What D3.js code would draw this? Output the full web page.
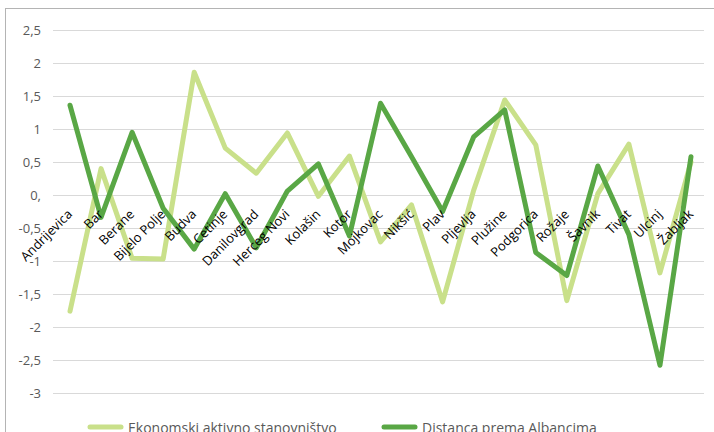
<!DOCTYPE html>
<html>
<head>
<meta charset="utf-8">
<script src="https://cdn.jsdelivr.net/npm/d3@7"></script>
<style>
  html, body { margin: 0; padding: 0; background: #fff; }
  svg { display: block; font-family: "Open Sans", "Noto Sans", sans-serif; }
</style>
</head>
<body>
<svg id="chart" width="714" height="432"></svg>
<script>
// Municipalities (x categories)
const municipalities = [
  'Andrijevica', 'Bar', 'Berane', 'Bijelo Polje', 'Budva', 'Cetinje', 'Danilovgrad',
  'Herceg Novi', 'Kolašin', 'Kotor', 'Mojkovac', 'Nikšić', 'Plav', 'Pljevlja',
  'Plužine', 'Podgorica', 'Rožaje', 'Šavnik', 'Tivat', 'Ulcinj', 'Žabljak'
];

// Series values
const ekonomskiAktivno = [
  -1.76, 0.40, -0.96, -0.97, 1.86, 0.71, 0.33,
  0.94, -0.02, 0.59, -0.71, -0.15, -1.62, 0.07,
  1.44, 0.76, -1.60, 0.02, 0.77, -1.18, 0.50
];
const distancaAlbanci = [
  1.36, -0.34, 0.95, -0.20, -0.82, 0.02, -0.80,
  0.06, 0.47, -0.62, 1.39, 0.58, -0.25, 0.88,
  1.29, -0.87, -1.22, 0.44, -0.60, -2.58, 0.58
];

const yTicks = [2.5, 2, 1.5, 1, 0.5, 0, -0.5, -1, -1.5, -2, -2.5, -3];
const yTickLabels = ['2,5', '2', '1,5', '1', '0,5', '0,', '-0,5', '-1', '-1,5', '-2', '-2,5', '-3'];

const series = [
  { name: 'Ekonomski aktivno stanovništvo', values: ekonomskiAktivno, color: '#c9e08a' },
  { name: 'Distanca prema Albancima', values: distancaAlbanci, color: '#59a745' }
];

const svg = d3.select('#chart');

// outer chart frame
svg.append('rect')
  .attr('x', 5.5).attr('y', 8.5)
  .attr('width', 740).attr('height', 460)
  .attr('fill', 'none')
  .attr('stroke', '#b4b4b4')
  .attr('stroke-width', 1);

const x = d3.scalePoint()
  .domain(municipalities)
  .range([70, 691]);

const y = d3.scaleLinear()
  .domain([-3, 2.5])
  .range([393, 30]);

// gridlines
svg.append('g')
  .selectAll('line')
  .data(yTicks)
  .join('line')
  .attr('x1', 53).attr('x2', 704)
  .attr('y1', d => Math.round(y(d)) + 0.5)
  .attr('y2', d => Math.round(y(d)) + 0.5)
  .attr('stroke', '#d9d9d9')
  .attr('stroke-width', 1);

// y axis labels
const yAxis = d3.axisLeft(y)
  .tickValues(yTicks)
  .tickSize(0)
  .tickPadding(0)
  .tickFormat((d, i) => yTickLabels[i]);

const yg = svg.append('g')
  .attr('transform', 'translate(41,0)')
  .call(yAxis);
yg.select('.domain').remove();
yg.selectAll('text')
  .attr('fill', '#595959')
  .style('font-size', '13px')
  .style('font-family', '"Open Sans", "Noto Sans", sans-serif');

// lines
const line = d3.line()
  .x((d, i) => x(municipalities[i]))
  .y(d => y(d));

svg.append('g')
  .selectAll('path')
  .data(series)
  .join('path')
  .attr('d', d => line(d.values))
  .attr('fill', 'none')
  .attr('stroke', d => d.color)
  .attr('stroke-width', 5)
  .attr('stroke-linejoin', 'round')
  .attr('stroke-linecap', 'round');

// category labels (rotated, near the zero line)
svg.append('g')
  .selectAll('text')
  .data(municipalities)
  .join('text')
  .attr('transform', d => `translate(${x(d) + 3},${y(0) + 20}) rotate(-45)`)
  .attr('text-anchor', 'end')
  .attr('fill', '#000')
  .style('font-size', '13px')
  .text(d => d);

// legend
const legendX = [88, 382];
const legend = svg.append('g')
  .selectAll('g')
  .data(series)
  .join('g')
  .attr('transform', (d, i) => `translate(${legendX[i]},427)`);

legend.append('line')
  .attr('x1', 2).attr('x2', 33)
  .attr('y1', 0).attr('y2', 0)
  .attr('stroke', d => d.color)
  .attr('stroke-width', 5)
  .attr('stroke-linecap', 'round');

legend.append('text')
  .attr('x', 40)
  .attr('y', 6)
  .attr('fill', '#595959')
  .style('font-size', '14px')
  .text(d => d.name);
</script>
</body>
</html>
